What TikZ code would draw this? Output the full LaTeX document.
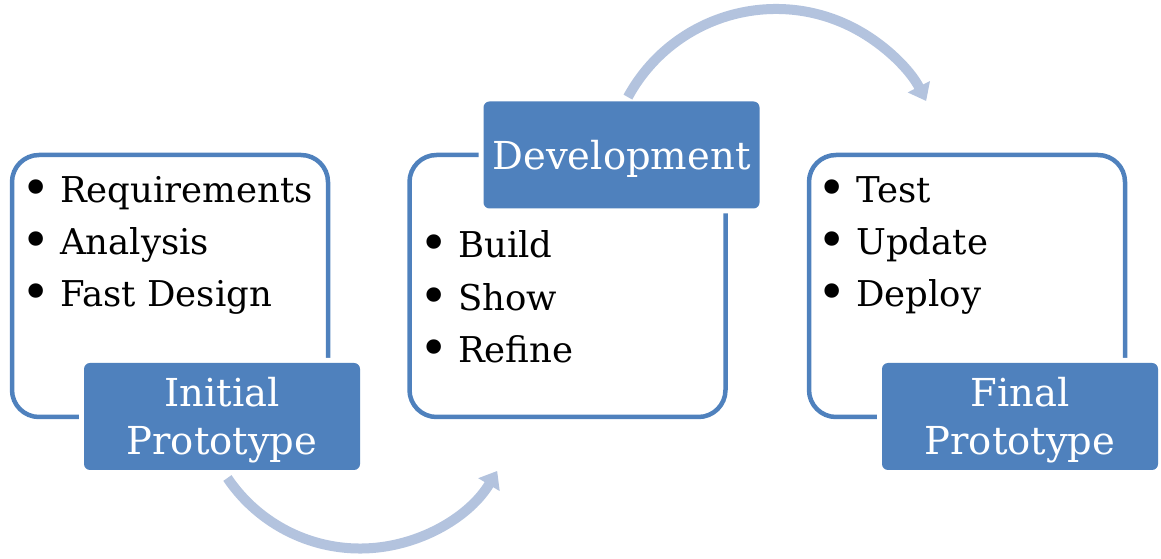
\documentclass[tikz,border=0pt]{standalone}
\usepackage{fontspec}
\setmainfont{DejaVu Serif}
\usetikzlibrary{arrows.meta}
\definecolor{boxblue}{RGB}{79,129,189}
\definecolor{flowblue}{RGB}{179,195,222}
\newcommand{\itembullet}{\makebox[36pt][l]{\hspace{-3pt}\raisebox{-3pt}{\scalebox{1.4}{\textbullet}}}}
\newcommand{\tagstrut}{\rule{0pt}{37pt}}

\begin{document}
\begin{tikzpicture}[x=1pt,y=1pt,
    frame/.style={draw=boxblue,line width=4.5pt,rounded corners=27pt,
      minimum width=316pt,minimum height=262pt,inner sep=0pt},
    tag/.style={fill=boxblue,text=white,rounded corners=6pt,align=center,
      minimum width=276pt,minimum height=107pt,inner sep=0pt,
      preaction={draw=white,line width=10pt},
      font=\fontsize{38.5}{48}\selectfont},
    item/.style={anchor=base west,inner sep=0pt,font=\fontsize{35.5}{52}\selectfont},
    flow/.style={draw=flowblue,line width=10pt,-{Triangle[width=24pt,length=16pt]}}]
  \useasboundingbox (0,0) rectangle (1161,559);
  % outline boxes
  \node[frame] (init)  at (170,273)   {};
  \node[frame] (dev)   at (567.5,273) {};
  \node[frame] (final) at (967,273)   {};
  % headings
  \node[tag] (initt)  at (222,142.5)  {\tagstrut Initial\\Prototype};
  \node[tag] (devt)   at (621.5,404)  {\tagstrut Development};
  \node[tag] (finalt) at (1020,142.5) {\tagstrut Final\\Prototype};
  % bullet lists
  \foreach \t [count=\i from 0] in {Requirements,Analysis,Fast Design}
    \node[item] (init\i) at (24,356-52*\i) {\itembullet\t};
  \foreach \t [count=\i from 0] in {Build,Show,Refine}
    \node[item] (dev\i) at (422,301-52.5*\i) {\itembullet\t};
  \foreach \t [count=\i from 0] in {Test,Update,Deploy}
    \node[item] (final\i) at (820,356-52*\i) {\itembullet\t};
  % arrows
  \coordinate (a1) at (227.4,81);
  \coordinate (a2) at (627.9,461.9);
  \draw[flow] (a1) arc[start angle=214,end angle=329,radius=160];
  \draw[flow] (a2) arc[start angle=151.5,end angle=27,radius=168.5];
\end{tikzpicture}
\end{document}
